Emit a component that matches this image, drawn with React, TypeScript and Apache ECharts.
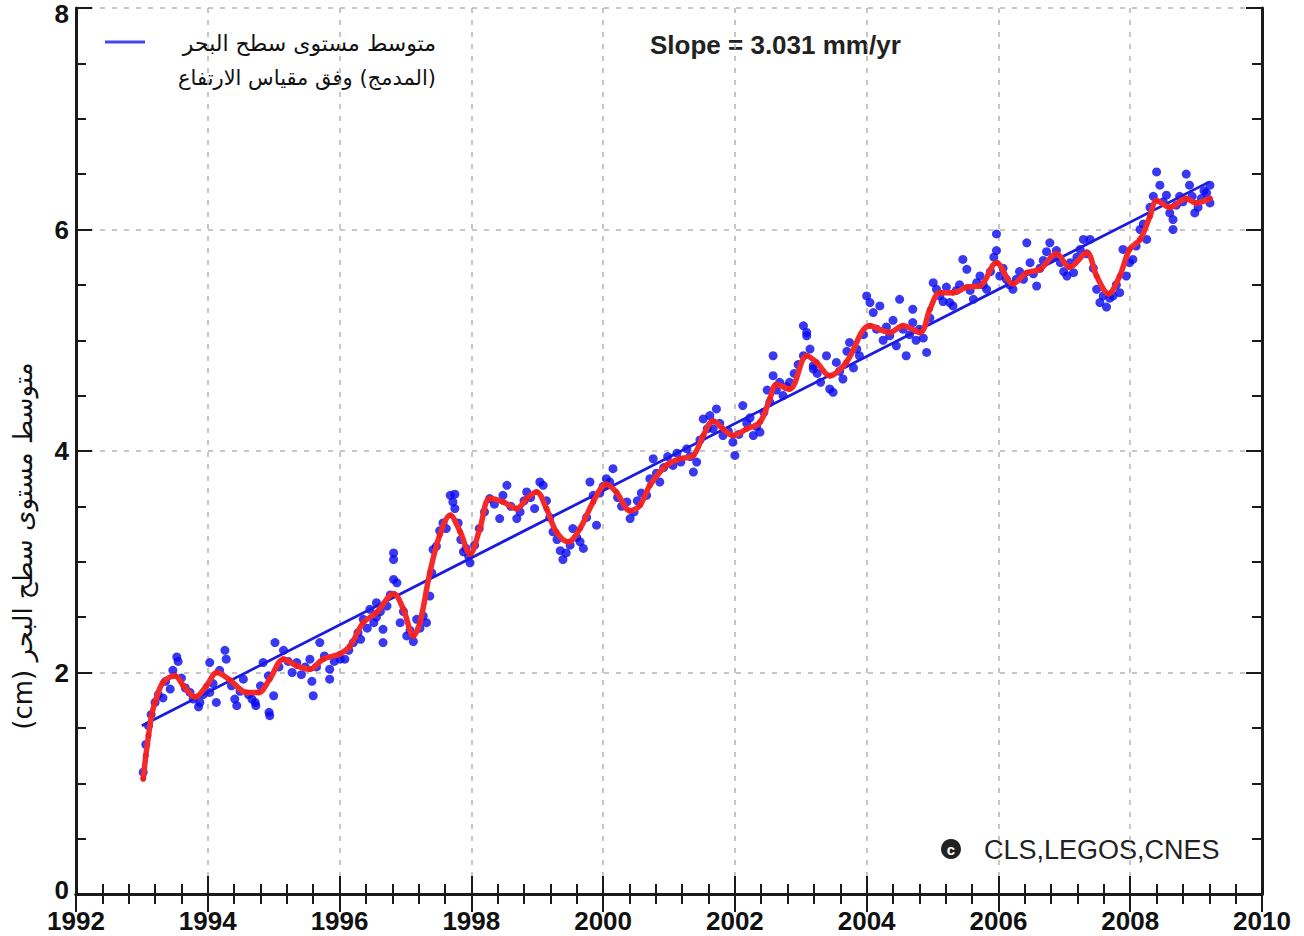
import React, { useEffect, useRef } from "react";
import * as echarts from "echarts";

// ---- Data ----
const xRange = [1992, 2010];
const yRange = [0, 8];

// trend line (Slope = 3.031 mm/yr)
const trendLine: number[][] = [
  [1993.0, 1.52],
  [2009.2, 6.43],
];

// smoothed curve (red)
const smoothCurve: number[][] = [
  [1993.02, 1.04], [1993.06, 1.25], [1993.1, 1.43], [1993.15, 1.62], [1993.2, 1.73], [1993.32, 1.91],
  [1993.5, 1.97], [1993.63, 1.88], [1993.81, 1.78], [1993.98, 1.88], [1994.14, 2.0], [1994.34, 1.93],
  [1994.59, 1.82], [1994.77, 1.82], [1994.94, 1.94], [1995.15, 2.12], [1995.35, 2.06], [1995.55, 2.03],
  [1995.75, 2.12], [1996.01, 2.17], [1996.16, 2.24], [1996.36, 2.45], [1996.56, 2.54], [1996.82, 2.71],
  [1996.97, 2.57], [1997.12, 2.33], [1997.22, 2.45], [1997.37, 2.9], [1997.52, 3.24], [1997.68, 3.42],
  [1997.83, 3.27], [1997.98, 3.07], [1998.13, 3.3], [1998.28, 3.57], [1998.48, 3.54], [1998.69, 3.48],
  [1998.84, 3.57], [1998.99, 3.63], [1999.14, 3.48], [1999.29, 3.27], [1999.47, 3.18], [1999.65, 3.3],
  [1999.85, 3.54], [2000.05, 3.7], [2000.2, 3.63], [2000.41, 3.46], [2000.56, 3.51], [2000.71, 3.69],
  [2000.96, 3.87], [2001.17, 3.93], [2001.37, 3.96], [2001.52, 4.14], [2001.67, 4.27], [2001.82, 4.2],
  [2001.97, 4.14], [2002.18, 4.2], [2002.38, 4.26], [2002.53, 4.47], [2002.63, 4.6], [2002.83, 4.56],
  [2003.09, 4.86], [2003.24, 4.8], [2003.44, 4.68], [2003.69, 4.8], [2004.05, 5.13], [2004.35, 5.07],
  [2004.55, 5.13], [2004.81, 5.07], [2004.96, 5.28], [2005.11, 5.43], [2005.31, 5.43], [2005.52, 5.48],
  [2005.72, 5.49], [2005.97, 5.7], [2006.22, 5.51], [2006.43, 5.61], [2006.63, 5.64], [2006.88, 5.78],
  [2007.08, 5.66], [2007.34, 5.79], [2007.49, 5.58], [2007.67, 5.42], [2007.84, 5.58], [2007.99, 5.82],
  [2008.15, 5.91], [2008.3, 6.12], [2008.4, 6.26], [2008.6, 6.2], [2008.85, 6.28], [2009.0, 6.24],
  [2009.21, 6.28],
];

// measurements (blue dots)
const measurements: number[][] = [
  [1993.02, 1.1], [1993.06, 1.35], [1993.1, 1.52], [1993.14, 1.62], [1993.2, 1.73], [1993.25, 1.8],
  [1993.32, 1.77], [1993.36, 1.92], [1993.43, 1.85], [1993.47, 2.02], [1993.53, 2.14], [1993.55, 2.1],
  [1993.6, 1.95], [1993.66, 1.86], [1993.73, 1.82], [1993.78, 1.76], [1993.86, 1.69], [1993.88, 1.73],
  [1993.93, 1.8],
  [1994.03, 2.09], [1994.03, 1.82], [1994.08, 1.9], [1994.13, 1.73], [1994.18, 2.02], [1994.26, 2.2],
  [1994.28, 2.12], [1994.36, 1.88], [1994.41, 1.76], [1994.44, 1.7], [1994.49, 1.83], [1994.54, 1.94],
  [1994.62, 1.8], [1994.67, 1.76], [1994.72, 1.73], [1994.73, 1.7], [1994.8, 1.88], [1994.84, 2.09],
  [1994.92, 1.97], [1994.93, 1.64], [1994.94, 1.61],
  [1995.0, 1.79], [1995.02, 2.27], [1995.08, 2.05], [1995.15, 2.2], [1995.22, 2.1], [1995.28, 2.0],
  [1995.35, 2.09], [1995.42, 1.98], [1995.48, 2.05], [1995.55, 2.12], [1995.58, 1.92], [1995.6, 1.79],
  [1995.65, 2.05], [1995.7, 2.27], [1995.77, 2.15], [1995.85, 2.03], [1995.85, 1.94], [1995.92, 2.1],
  [1996.01, 2.12], [1996.08, 2.12], [1996.14, 2.2], [1996.21, 2.27], [1996.28, 2.36], [1996.32, 2.3],
  [1996.36, 2.48], [1996.42, 2.4], [1996.46, 2.57], [1996.52, 2.45], [1996.56, 2.5], [1996.56, 2.63],
  [1996.62, 2.55], [1996.66, 2.39], [1996.66, 2.27], [1996.72, 2.6], [1996.77, 2.7], [1996.82, 2.84],
  [1996.82, 3.02], [1996.82, 3.08], [1996.87, 2.81], [1996.92, 2.45], [1996.97, 2.55],
  [1997.02, 2.33], [1997.07, 2.38], [1997.12, 2.28], [1997.17, 2.48], [1997.22, 2.4], [1997.27, 2.51],
  [1997.32, 2.45], [1997.37, 2.69], [1997.4, 2.9], [1997.42, 3.11], [1997.47, 3.14], [1997.52, 3.28],
  [1997.57, 3.35], [1997.62, 3.3], [1997.68, 3.6], [1997.72, 3.54], [1997.75, 3.48], [1997.75, 3.61],
  [1997.8, 3.35], [1997.84, 3.2], [1997.88, 3.09], [1997.92, 3.12], [1997.96, 3.05], [1997.98, 2.99],
  [1998.05, 3.15], [1998.12, 3.3], [1998.2, 3.45], [1998.28, 3.57], [1998.35, 3.52], [1998.43, 3.39],
  [1998.48, 3.6], [1998.54, 3.69], [1998.6, 3.5], [1998.69, 3.39], [1998.74, 3.45], [1998.8, 3.55],
  [1998.84, 3.63], [1998.9, 3.58], [1998.96, 3.48],
  [1999.04, 3.72], [1999.09, 3.69], [1999.14, 3.55], [1999.19, 3.4], [1999.24, 3.27], [1999.3, 3.2],
  [1999.35, 3.1], [1999.39, 3.02], [1999.44, 3.08], [1999.5, 3.15], [1999.54, 3.3], [1999.6, 3.22],
  [1999.65, 3.18], [1999.7, 3.12], [1999.75, 3.4], [1999.8, 3.72], [1999.85, 3.6], [1999.9, 3.33],
  [1999.95, 3.62],
  [2000.0, 3.68], [2000.05, 3.75], [2000.1, 3.72], [2000.15, 3.84], [2000.22, 3.58], [2000.28, 3.5],
  [2000.36, 3.54], [2000.41, 3.39], [2000.47, 3.45], [2000.52, 3.55], [2000.58, 3.62], [2000.66, 3.6],
  [2000.71, 3.75], [2000.76, 3.93], [2000.81, 3.8], [2000.86, 3.72], [2000.92, 3.85], [2000.98, 3.95],
  [2001.06, 3.87], [2001.12, 3.98], [2001.18, 3.9], [2001.27, 4.02], [2001.32, 3.95], [2001.37, 3.81],
  [2001.42, 3.9], [2001.47, 4.1], [2001.52, 4.29], [2001.58, 4.2], [2001.62, 4.32], [2001.67, 4.2],
  [2001.72, 4.38], [2001.77, 4.25], [2001.82, 4.14], [2001.9, 4.18], [2001.97, 4.08],
  [2002.0, 3.96], [2002.06, 4.15], [2002.12, 4.41], [2002.18, 4.25], [2002.23, 4.3], [2002.28, 4.14],
  [2002.33, 4.22], [2002.38, 4.17], [2002.44, 4.35], [2002.49, 4.55], [2002.53, 4.44], [2002.58, 4.86],
  [2002.58, 4.68], [2002.63, 4.55], [2002.68, 4.62], [2002.73, 4.5], [2002.78, 4.58], [2002.83, 4.62],
  [2002.9, 4.7], [2002.96, 4.78],
  [2003.04, 4.86], [2003.04, 5.13], [2003.09, 5.07], [2003.09, 5.04], [2003.14, 4.92], [2003.19, 4.74],
  [2003.19, 4.77], [2003.25, 4.7], [2003.3, 4.62], [2003.39, 4.86], [2003.44, 4.56], [2003.49, 4.53],
  [2003.54, 4.8], [2003.59, 4.72], [2003.64, 4.65], [2003.7, 4.9], [2003.74, 4.98], [2003.8, 4.75],
  [2003.85, 4.92], [2003.89, 4.86], [2003.95, 5.05],
  [2004.0, 5.4], [2004.05, 5.34], [2004.1, 5.25], [2004.15, 5.1], [2004.2, 5.31], [2004.25, 5.0],
  [2004.3, 5.12], [2004.35, 5.04], [2004.4, 5.18], [2004.45, 4.95], [2004.5, 5.37], [2004.55, 5.1],
  [2004.6, 4.86], [2004.65, 5.05], [2004.7, 5.28], [2004.7, 5.16], [2004.75, 5.0], [2004.8, 5.1],
  [2004.86, 5.02], [2004.91, 4.89], [2004.96, 5.2],
  [2005.01, 5.52], [2005.06, 5.46], [2005.11, 5.4], [2005.16, 5.35], [2005.21, 5.48], [2005.26, 5.34],
  [2005.31, 5.31], [2005.36, 5.45], [2005.41, 5.5], [2005.46, 5.73], [2005.52, 5.64], [2005.57, 5.45],
  [2005.62, 5.37], [2005.67, 5.52], [2005.72, 5.58], [2005.77, 5.5], [2005.82, 5.46], [2005.88, 5.62],
  [2005.93, 5.75], [2005.97, 5.96], [2005.97, 5.81],
  [2006.02, 5.58], [2006.07, 5.65], [2006.12, 5.55], [2006.17, 5.5], [2006.22, 5.46], [2006.27, 5.55],
  [2006.32, 5.62], [2006.38, 5.55], [2006.43, 5.88], [2006.48, 5.7], [2006.53, 5.6], [2006.58, 5.49],
  [2006.63, 5.65], [2006.68, 5.72], [2006.73, 5.8], [2006.78, 5.88], [2006.83, 5.75], [2006.88, 5.81],
  [2006.94, 5.7], [2006.99, 5.62],
  [2007.04, 5.58], [2007.09, 5.7], [2007.14, 5.61], [2007.19, 5.75], [2007.24, 5.82], [2007.29, 5.91],
  [2007.34, 5.78], [2007.39, 5.91], [2007.44, 5.65], [2007.49, 5.46], [2007.54, 5.34], [2007.59, 5.4],
  [2007.64, 5.3], [2007.69, 5.38], [2007.74, 5.4], [2007.79, 5.5], [2007.84, 5.43], [2007.89, 5.82],
  [2007.94, 5.58], [2007.99, 5.7],
  [2008.04, 5.73], [2008.09, 5.85], [2008.15, 6.0], [2008.2, 6.05], [2008.25, 5.91], [2008.3, 6.2],
  [2008.35, 6.3], [2008.4, 6.52], [2008.45, 6.4], [2008.5, 6.25], [2008.55, 6.31], [2008.6, 6.15],
  [2008.65, 6.09], [2008.65, 6.0], [2008.7, 6.22], [2008.75, 6.3], [2008.8, 6.25], [2008.85, 6.5],
  [2008.9, 6.4], [2008.94, 6.3], [2008.98, 6.15],
  [2009.03, 6.2], [2009.08, 6.28], [2009.12, 6.35], [2009.16, 6.33], [2009.21, 6.24], [2009.21, 6.4],
];

const legendLine1 = "متوسط مستوى سطح البحر";
const legendLine2 = "\u200F(المدمج) وفق مقياس الارتفاع";
const yTitle = "\u202Bمتوسط مستوى سطح البحر (cm)\u202C";
const slopeText = "Slope = 3.031 mm/yr";
const creditText = "CLS,LEGOS,CNES";

const NUM_FONT = "'Liberation Sans', Arial, Helvetica, sans-serif";
const AR_FONT = "'DejaVu Sans', serif";

export default function App() {
  const ref = useRef<HTMLDivElement>(null);

  useEffect(() => {
    if (!ref.current) return;
    const chart = echarts.init(ref.current, null, { renderer: "svg" });

    const AX = "#1a1a1a";
    const axisLine = { show: true, lineStyle: { color: AX, width: 3 } };
    const splitLine = {
      show: true,
      lineStyle: { color: "#b4b4b4", type: [5, 7] as any, width: 1.5 },
    };
    const xTick = { show: true, inside: true, length: 18, lineStyle: { color: AX, width: 2 } };
    const xMinor = { show: true, splitNumber: 5, length: 10, lineStyle: { color: AX, width: 2 } };
    const yTick = { show: true, inside: true, length: 16, lineStyle: { color: AX, width: 2 } };
    const yMinor = { show: true, splitNumber: 4, length: 10, lineStyle: { color: AX, width: 2 } };
    const labelStyle = {
      color: "#111",
      fontSize: 26,
      lineHeight: 20,
      fontWeight: "bold",
      fontFamily: NUM_FONT,
    };

    const option: any = {
      animation: false,
      backgroundColor: "#fff",
      grid: {
        left: 76,
        right: 42,
        top: 8,
        bottom: 42,
        containLabel: false,
        outerBoundsMode: "none",
      },
      xAxis: [
        {
          type: "value",
          position: "bottom",
          min: xRange[0],
          max: xRange[1],
          interval: 2,
          axisLine,
          axisTick: xTick,
          minorTick: xMinor,
          splitLine,
          axisLabel: { show: true, margin: 17, ...labelStyle, formatter: (v: number) => String(v) },
        },
        {
          type: "value",
          position: "top",
          min: xRange[0],
          max: xRange[1],
          interval: 2,
          axisLine,
          axisTick: xTick,
          minorTick: xMinor,
          splitLine: { show: false },
          axisLabel: { show: false },
        },
      ],
      yAxis: [
        {
          type: "value",
          position: "left",
          min: yRange[0],
          max: yRange[1],
          interval: 2,
          axisLine,
          axisTick: yTick,
          minorTick: yMinor,
          splitLine,
          axisLabel: {
            show: true,
            margin: 7,
            ...labelStyle,
            formatter: (v: number) =>
              v === yRange[1] ? `{top|${v}}` : v === yRange[0] ? `{bot|${v}}` : `{n|${v}}`,
            rich: {
              n: { ...labelStyle },
              top: { ...labelStyle, padding: [12, 0, 0, 0] },
              bot: { ...labelStyle, padding: [0, 0, 8, 0] },
            },
          },
        },
        {
          type: "value",
          position: "right",
          min: yRange[0],
          max: yRange[1],
          interval: 2,
          axisLine,
          axisTick: yTick,
          minorTick: yMinor,
          splitLine: { show: false },
          axisLabel: { show: false },
        },
      ],
      series: [
        {
          name: "measurements",
          type: "scatter",
          xAxisIndex: 0,
          yAxisIndex: 0,
          data: measurements,
          symbol: "circle",
          symbolSize: 9,
          itemStyle: { color: "#0808f0" },
          z: 2,
        },
        {
          name: "trend",
          type: "line",
          xAxisIndex: 0,
          yAxisIndex: 0,
          data: trendLine,
          showSymbol: false,
          lineStyle: { color: "#1a1ae0", width: 2.8 },
          z: 3,
        },
        {
          name: "smoothed",
          type: "line",
          xAxisIndex: 0,
          yAxisIndex: 0,
          data: smoothCurve,
          smooth: 0.35,
          showSymbol: true,
          showAllSymbol: true,
          symbol: "circle",
          symbolSize: 6,
          itemStyle: { color: "#f02020" },
          lineStyle: { color: "#f52a2a", width: 5.5 },
          z: 4,
        },
      ],
      graphic: [
        {
          type: "line",
          shape: { x1: 105, y1: 42, x2: 145, y2: 42 },
          style: { stroke: "#4646ee", lineWidth: 3 },
        },
        {
          type: "text",
          x: 436,
          y: 43,
          style: {
            text: legendLine1,
            fill: "#111",
            font: `22px ${AR_FONT}`,
            textAlign: "right",
            textVerticalAlign: "middle",
          },
        },
        {
          type: "text",
          x: 436,
          y: 78,
          style: {
            text: legendLine2,
            fill: "#111",
            font: `21px ${AR_FONT}`,
            textAlign: "right",
            textVerticalAlign: "middle",
          },
        },
        {
          type: "text",
          x: 23,
          y: 546,
          rotation: Math.PI / 2,
          style: {
            text: yTitle,
            fill: "#111",
            font: `26px ${AR_FONT}`,
            textAlign: "center",
            textVerticalAlign: "middle",
          },
        },
        {
          type: "text",
          x: 650,
          y: 45,
          style: {
            text: slopeText,
            fill: "#222",
            font: `bold 26px ${NUM_FONT}`,
            textAlign: "left",
            textVerticalAlign: "middle",
          },
        },
        {
          type: "circle",
          shape: { cx: 951, cy: 849, r: 10 },
          style: { fill: "#222" },
        },
        {
          type: "text",
          x: 951,
          y: 849,
          style: {
            text: "c",
            fill: "#fff",
            font: `bold 15px ${NUM_FONT}`,
            textAlign: "center",
            textVerticalAlign: "middle",
          },
        },
        {
          type: "text",
          x: 984,
          y: 850,
          style: {
            text: creditText,
            fill: "#222",
            font: `27px ${NUM_FONT}`,
            textAlign: "left",
            textVerticalAlign: "middle",
          },
        },
      ],
    };

    chart.setOption(option);
    return () => chart.dispose();
  }, []);

  return (
    <div
      ref={ref}
      style={{ position: "fixed", left: 0, top: 0, width: 1304, height: 936, background: "#fff" }}
    />
  );
}
